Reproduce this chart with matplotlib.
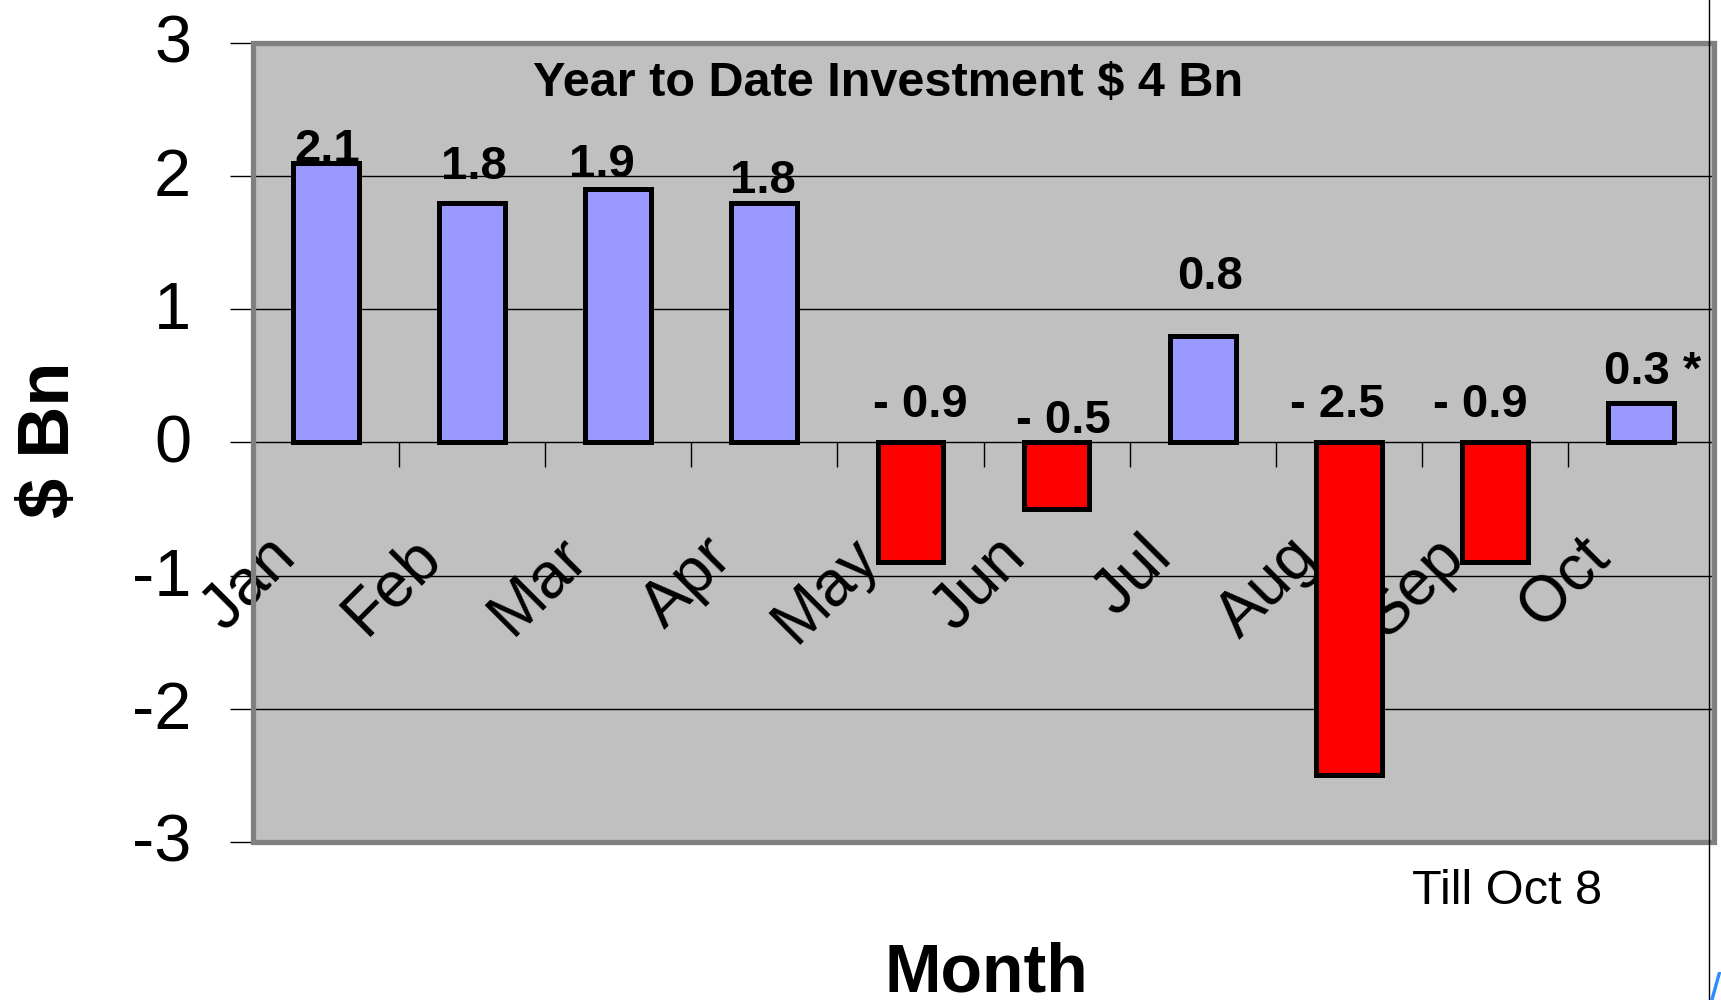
import matplotlib
matplotlib.use("Agg")
import matplotlib.pyplot as plt
import matplotlib.transforms as mtransforms
from matplotlib.lines import Line2D
from matplotlib.patches import Rectangle

plt.rcParams['font.family'] = ['Liberation Sans', 'DejaVu Sans']

# ---- data ----
months = ["Jan", "Feb", "Mar", "Apr", "May", "Jun", "Jul", "Aug", "Sep", "Oct"]
values = [2.1, 1.8, 1.9, 1.8, -0.9, -0.5, 0.8, -2.5, -0.9, 0.3]
label_suffix = ["", "", "", "", "", "", "", "", "", " *"]
y_ticks = [-3, -2, -1, 0, 1, 2, 3]
y_tick_labels = ["-3", "-2", "-1", "0", "1", "2", "3"]
title_text = "Year to Date Investment \\$ 4 Bn"
note_text = "Till Oct 8"

# value-label placement (data coords, hand-placed in the original)
label_x = [0.01, 1.01, 1.89, 2.99, 4.07, 5.05, 6.05, 6.92, 7.90, 9.08]
label_y = [2.11, 1.98, 1.99, 1.87, 0.195, 0.075, 1.15, 0.19, 0.19, 0.44]

POS_COLOR = "#9999FF"
NEG_COLOR = "#FF0000"
BG = "#C0C0C0"

W, H = 1721, 1000
fig = plt.figure(figsize=(W / 100, H / 100), dpi=100)
L, R, T, B = 253, 1714, 43, 842
ax = fig.add_axes([L / W, 1 - B / H, (R - L) / W, (B - T) / H])
ax.set_facecolor(BG)

x = list(range(len(months)))
colors = [POS_COLOR if v >= 0 else NEG_COLOR for v in values]
ax.bar(x, values, width=0.45, color=colors, edgecolor="black", linewidth=3.6, zorder=3)

ax.set_xlim(-0.5, len(months) - 0.5)
ax.set_ylim(-3, 3)

# grid
ax.set_axisbelow(True)
ax.yaxis.grid(True, color="black", linewidth=1)

# y axis
ax.set_yticks(y_ticks)
ax.set_yticklabels(y_tick_labels, fontsize=48)
ax.tick_params(axis="y", length=16.5, width=1, direction="out", pad=28, color="black")
yoff = mtransforms.ScaledTranslation(0, 0.04, fig.dpi_scale_trans)
for lab in ax.get_yticklabels():
    lab.set_transform(lab.get_transform() + yoff)

# x axis on the zero line
for s in ax.spines.values():
    s.set_visible(False)
ax.spines["bottom"].set_position(("data", 0))
ax.set_xticks(x)
ax.set_xticks([i - 0.5 for i in range(len(months) + 1)], minor=True)
ax.set_xticklabels(months, fontsize=46, rotation=45, ha="right", va="baseline",
                   rotation_mode="anchor")
ax.tick_params(axis="x", which="major", length=0, pad=84)
ax.tick_params(axis="x", which="minor", length=18, width=1, direction="out", color="black")
offset = mtransforms.ScaledTranslation(-0.29, 0, fig.dpi_scale_trans)
for lab in ax.get_xticklabels():
    lab.set_transform(lab.get_transform() + offset)

# frame
ax.add_patch(Rectangle((0, 0), 1, 1, transform=ax.transAxes, fill=False,
                       edgecolor="#808080", linewidth=3.8, clip_on=False, zorder=5))

# value labels
for v, sfx, lx, ly in zip(values, label_suffix, label_x, label_y):
    txt = (f"- {abs(v):.1f}" if v < 0 else f"{v:.1f}") + sfx
    ax.text(lx, ly, txt, ha="center", va="baseline", fontsize=34,
            fontweight="bold", zorder=4)

# title inside plot
ax.text((888 - L) / (R - L), (B - 96) / (B - T), title_text, transform=ax.transAxes,
        ha="center", va="baseline", fontsize=35, fontweight="bold")

# axis labels
ax.set_ylabel("\\$ Bn", fontsize=52, fontweight="bold")
ax.yaxis.label.set_verticalalignment("center")
ax.yaxis.set_label_coords((50 - L) / (R - L), (B - 440) / (B - T))
fig.text(986 / W, 1 - 992 / H, "Month", ha="center", va="baseline",
         fontsize=49, fontweight="bold")

fig.text(1507 / W, 1 - 904 / H, note_text, ha="center", va="baseline", fontsize=35)

# stray elements of the original slide
fig.add_artist(Line2D([1709 / W, 1709 / W], [0, 1], transform=fig.transFigure,
                      color="black", linewidth=1))
fig.text(1709 / W, -0.004, "/(", ha="left", va="baseline", fontsize=32, color="#2b8cff")

fig.savefig("out.png", dpi=100)
